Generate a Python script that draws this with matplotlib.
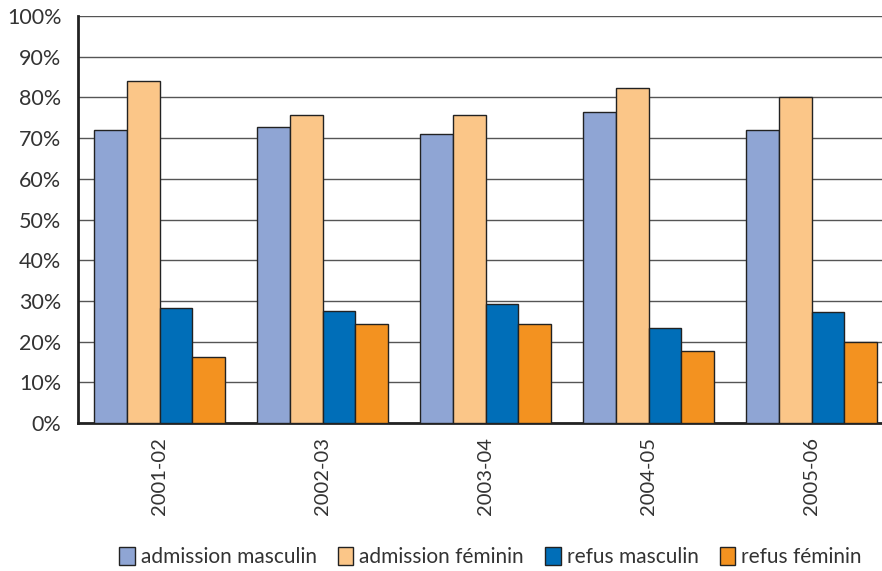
import numpy as np
import matplotlib.pyplot as plt

plt.rcParams['font.family'] = ['Lato', 'DejaVu Sans']

years = ['2001-02', '2002-03', '2003-04', '2004-05', '2005-06']
series_names = ['admission masculin', 'admission féminin', 'refus masculin', 'refus féminin']
adm_masc = [72.0, 72.7, 71.0, 76.5, 72.0]
adm_fem = [84.0, 75.7, 75.7, 82.2, 80.1]
ref_masc = [28.3, 27.5, 29.2, 23.4, 27.2]
ref_fem = [16.2, 24.3, 24.3, 17.7, 19.9]
colors = ['#8FA5D4', '#FBC688', '#006EB8', '#F39220']

fig = plt.figure(figsize=(8.82, 5.71), dpi=100)
ax = fig.add_axes([78/882, 148/571, 815/882, 407/571])

x = np.arange(len(years))
w = 0.2
for k, vals in enumerate([adm_masc, adm_fem, ref_masc, ref_fem]):
    ax.bar(x - 0.3 + k*w, vals, w, color=colors[k], edgecolor='#222222',
           linewidth=1, label=series_names[k], zorder=3)

ax.set_xlim(-0.5, 4.5)
ax.set_ylim(0, 100)
ax.set_yticks(np.arange(0, 101, 10))
ax.set_yticklabels([f'{v}%' for v in range(0, 101, 10)], fontsize=15.5, color='#333333')
ax.set_xticks(x)
ax.set_xticklabels(years, rotation=90, fontsize=14.5, color='#333333')
ax.tick_params(length=0, pad=12)
ax.tick_params(axis='x', pad=10)
ax.yaxis.grid(True, color='#555555', lw=1, zorder=0)
for s in ['top', 'right']:
    ax.spines[s].set_visible(False)
ax.spines['left'].set_linewidth(2)
ax.spines['bottom'].set_linewidth(2)
ax.spines['left'].set_color('#222222')
ax.spines['bottom'].set_color('#222222')

fig.legend(loc='center', bbox_to_anchor=(0.556, 0.024), ncol=4, frameon=False,
           fontsize=15, handlelength=0.75, handleheight=0.9, handletextpad=0.3,
           columnspacing=1.0, labelcolor='#333333')

plt.savefig('out.png', dpi=100)
